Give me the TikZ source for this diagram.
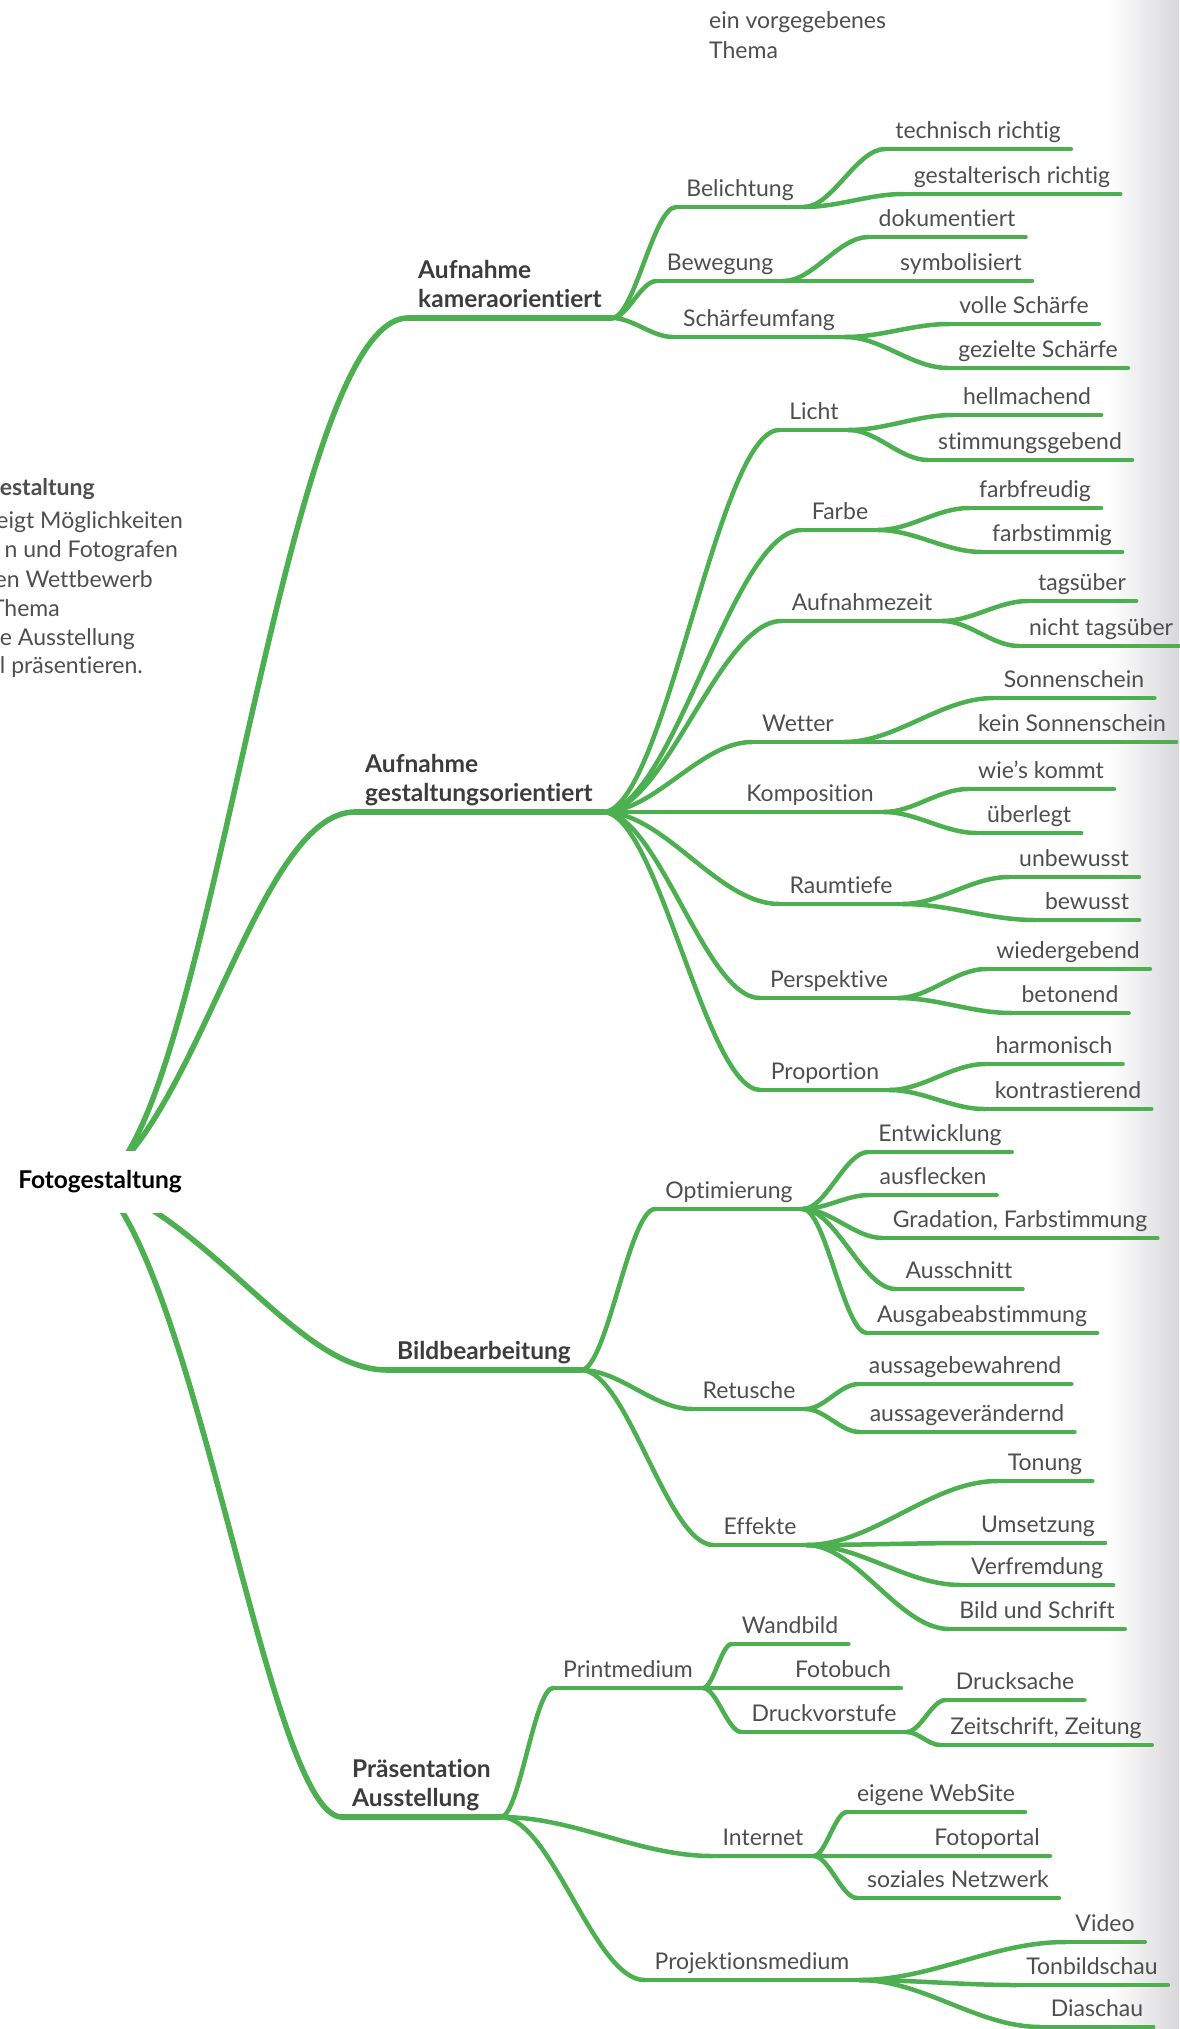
\documentclass[tikz,border=0pt]{standalone}
\usepackage{fontspec}
\setmainfont{Lato}[BoldFont=Lato Bold, Ligatures=NoCommon]
\usetikzlibrary{calc, backgrounds}

\definecolor{mapgreen}{RGB}{76,175,80}
\definecolor{txtgray}{RGB}{78,78,78}
\definecolor{boldgray}{RGB}{60,60,60}
\definecolor{shadowgray}{RGB}{216,216,219}

\begin{document}
\begin{tikzpicture}[
    x=1pt, y=-1pt,
    ln/.style={draw=mapgreen, line width=4.5pt, line cap=round},
    trunk/.style={ln, line width=5.5pt},
    br/.style={to path={let \p1=(\tikztostart), \p2=(\tikztotarget) in
        .. controls ({\x1+0.35*(\x2-\x1)},\y1) and ({\x2-0.35*(\x2-\x1)},\y2) .. (\tikztotarget)}},
    lbl/.style={anchor=south, inner xsep=10pt, inner ysep=10pt, text depth=0pt,
        text=txtgray, font=\fontsize{23}{30}\selectfont},
    topic/.style={lbl, anchor=south west, align=left, text=boldgray,
        font=\bfseries\fontsize{24.5}{29}\selectfont},
    root/.style={fill=white, minimum height=62pt, inner xsep=8pt, text=black,
        font=\bfseries\fontsize{24.5}{29}\selectfont},
    note/.style={inner sep=0pt, text=txtgray, font=\fontsize{23}{30}\selectfont}
]
\useasboundingbox (0,0) rectangle (1179,2029);
\shade[left color=white, right color=shadowgray] (1108,0) rectangle (1179,2029);

% text beside the map
\node[note, anchor=base west] (thema1) at (709,28) {ein vorgegebenes};
\node[note, anchor=base west] (thema2) at (709,58) {Thema};
\node[note, anchor=base east, font=\bfseries\fontsize{23}{30}\selectfont] (info1) at (95,495) {estaltung};
\node[note, anchor=base east] (info2) at (183,528) {eigt Möglichkeiten};
\node[note, anchor=base east] (info3) at (178,557) {n und Fotografen};
\node[note, anchor=base east] (info4) at (153,587) {en Wettbewerb};
\node[note, anchor=base east] (info5) at (60,616) {Thema};
\node[note, anchor=base east] (info6) at (135,645) {e Ausstellung};
\node[note, anchor=base east] (info7) at (143,673) {l präsentieren.};

% root and main topics
\node[root] (root) at (100,1182) {Fotogestaltung};
\node[topic] (b1) at (408,318) {Aufnahme\\kameraorientiert};
\node[topic] (b2) at (355,812) {Aufnahme\\gestaltungsorientiert};
\node[topic] (b3) at (387,1370) {Bildbearbeitung};
\node[topic] (b4) at (342,1817) {Präsentation\\Ausstellung};

% Aufnahme kameraorientiert
\node[lbl] (bel) at (740,207) {Belichtung};
\node[lbl] (tech) at (978,149) {technisch richtig};
\node[lbl] (gest) at (1012,194) {gestalterisch richtig};
\node[lbl] (bew) at (720,281) {Bewegung};
\node[lbl] (dok) at (947,237) {dokumentiert};
\node[lbl] (sym) at (961,281) {symbolisiert};
\node[lbl] (schaerfe) at (759,337) {Schärfeumfang};
\node[lbl] (voll) at (1024,324) {volle Schärfe};
\node[lbl] (geziel) at (1038,368) {gezielte Schärfe};

% Aufnahme gestaltungsorientiert
\node[lbl] (licht) at (814,430) {Licht};
\node[lbl] (hell) at (1027,415) {hellmachend};
\node[lbl] (stimm) at (1030,460) {stimmungsgebend};
\node[lbl] (farbe) at (840,530) {Farbe};
\node[lbl] (freud) at (1035,508) {farbfreudig};
\node[lbl] (fstimm) at (1052,552) {farbstimmig};
\node[lbl] (zeit) at (862,621) {Aufnahmezeit};
\node[lbl] (tags) at (1082,601) {tagsüber};
\node[lbl] (ntags) at (1101,646) {nicht tagsüber};
\node[lbl] (wetter) at (798,742) {Wetter};
\node[lbl] (sonne) at (1074,698) {Sonnenschein};
\node[lbl] (ksonne) at (1072,742) {kein Sonnenschein};
\node[lbl] (komp) at (810,812) {Komposition};
\node[lbl] (wies) at (1041,789) {wie’s kommt};
\node[lbl] (ueber) at (1029,833) {überlegt};
\node[lbl] (raum) at (841,904) {Raumtiefe};
\node[lbl] (unbew) at (1074,877) {unbewusst};
\node[lbl] (bew2) at (1087,920) {bewusst};
\node[lbl] (persp) at (829,998) {Perspektive};
\node[lbl] (wieder) at (1068,969) {wiedergebend};
\node[lbl] (beton) at (1070,1013) {betonend};
\node[lbl] (prop) at (825,1090) {Proportion};
\node[lbl] (harm) at (1054,1064) {harmonisch};
\node[lbl] (kontr) at (1068,1109) {kontrastierend};

% Bildbearbeitung
\node[lbl] (opt) at (729,1209) {Optimierung};
\node[lbl] (entw) at (940,1152) {Entwicklung};
\node[lbl] (ausfl) at (933,1195) {ausflecken};
\node[lbl] (grad) at (1020,1238) {Gradation, Farbstimmung};
\node[lbl] (ausschn) at (959,1289) {Ausschnitt};
\node[lbl] (ausgabe) at (982,1333) {Ausgabeabstimmung};
\node[lbl] (ret) at (749,1409) {Retusche};
\node[lbl] (bewahr) at (965,1384) {aussagebewahrend};
\node[lbl] (veraend) at (967,1432) {aussageverändernd};
\node[lbl] (eff) at (760,1545) {Effekte};
\node[lbl] (ton) at (1045,1481) {Tonung};
\node[lbl] (umsetz) at (1038,1543) {Umsetzung};
\node[lbl] (verfr) at (1037,1585) {Verfremdung};
\node[lbl] (schrift) at (1037,1629) {Bild und Schrift};

% Praesentation Ausstellung
\node[lbl] (print) at (628,1688) {Printmedium};
\node[lbl] (wand) at (790,1644) {Wandbild};
\node[lbl] (fbuch) at (843,1688) {Fotobuch};
\node[lbl] (vorst) at (824,1732) {Druckvorstufe};
\node[lbl] (dsache) at (1015,1700) {Drucksache};
\node[lbl] (zeitschr) at (1046,1745) {Zeitschrift, Zeitung};
\node[lbl] (inet) at (763,1856) {Internet};
\node[lbl] (webs) at (936,1812) {eigene WebSite};
\node[lbl] (fportal) at (987,1856) {Fotoportal};
\node[lbl] (sozial) at (958,1898) {soziales Netzwerk};
\node[lbl] (proj) at (752,1980) {Projektionsmedium};
\node[lbl] (video) at (1105,1942) {Video};
\node[lbl] (tbs) at (1092,1985) {Tonbildschau};
\node[lbl] (dia) at (1097,2027) {Diaschau};

% branches from the root, behind its label
\begin{scope}[on background layer]
\draw[trunk] (root.center) .. controls +(110,-51) and +(-126,0) .. (b1.south west);
\draw[trunk] (root.center) .. controls +(100,-71) and +(-95,0) .. (b2.south west);
\draw[trunk] (root.center) .. controls +(120,49) and +(-87,0) .. (b3.south west);
\draw[trunk] (root.center) .. controls +(100,99) and +(-72,0) .. (b4.south west);
\end{scope}

% underlines
\foreach \n in {b1,b2,b3,b4}
    \draw[trunk] (\n.south west) -- (\n.south east);
\foreach \n in {bel,tech,gest,bew,dok,sym,schaerfe,voll,geziel,
    licht,hell,stimm,farbe,freud,fstimm,zeit,tags,ntags,wetter,sonne,ksonne,
    komp,wies,ueber,raum,unbew,bew2,persp,wieder,beton,prop,harm,kontr,
    opt,entw,ausfl,grad,ausschn,ausgabe,ret,bewahr,veraend,eff,ton,umsetz,verfr,schrift,
    print,wand,fbuch,vorst,dsache,zeitschr,inet,webs,fportal,sozial,proj,video,tbs,dia}
    \draw[ln] (\n.south west) -- (\n.south east);

% connectors
\foreach \a/\b in {b1/bel,b1/bew,b1/schaerfe,bel/tech,bel/gest,bew/dok,bew/sym,
    schaerfe/voll,schaerfe/geziel,
    b2/licht,b2/farbe,b2/zeit,b2/wetter,b2/komp,b2/raum,b2/persp,b2/prop,
    licht/hell,licht/stimm,farbe/freud,farbe/fstimm,zeit/tags,zeit/ntags,
    wetter/sonne,wetter/ksonne,komp/wies,komp/ueber,raum/unbew,raum/bew2,
    persp/wieder,persp/beton,prop/harm,prop/kontr,
    b3/opt,b3/ret,b3/eff,opt/entw,opt/ausfl,opt/grad,opt/ausschn,opt/ausgabe,
    ret/bewahr,ret/veraend,eff/ton,eff/umsetz,eff/verfr,eff/schrift,
    b4/print,b4/inet,b4/proj,print/wand,print/fbuch,print/vorst,
    vorst/dsache,vorst/zeitschr,inet/webs,inet/fportal,inet/sozial,
    proj/video,proj/tbs,proj/dia}
    \draw[ln] (\a.south east) to[br] (\b.south west);
\end{tikzpicture}
\end{document}
